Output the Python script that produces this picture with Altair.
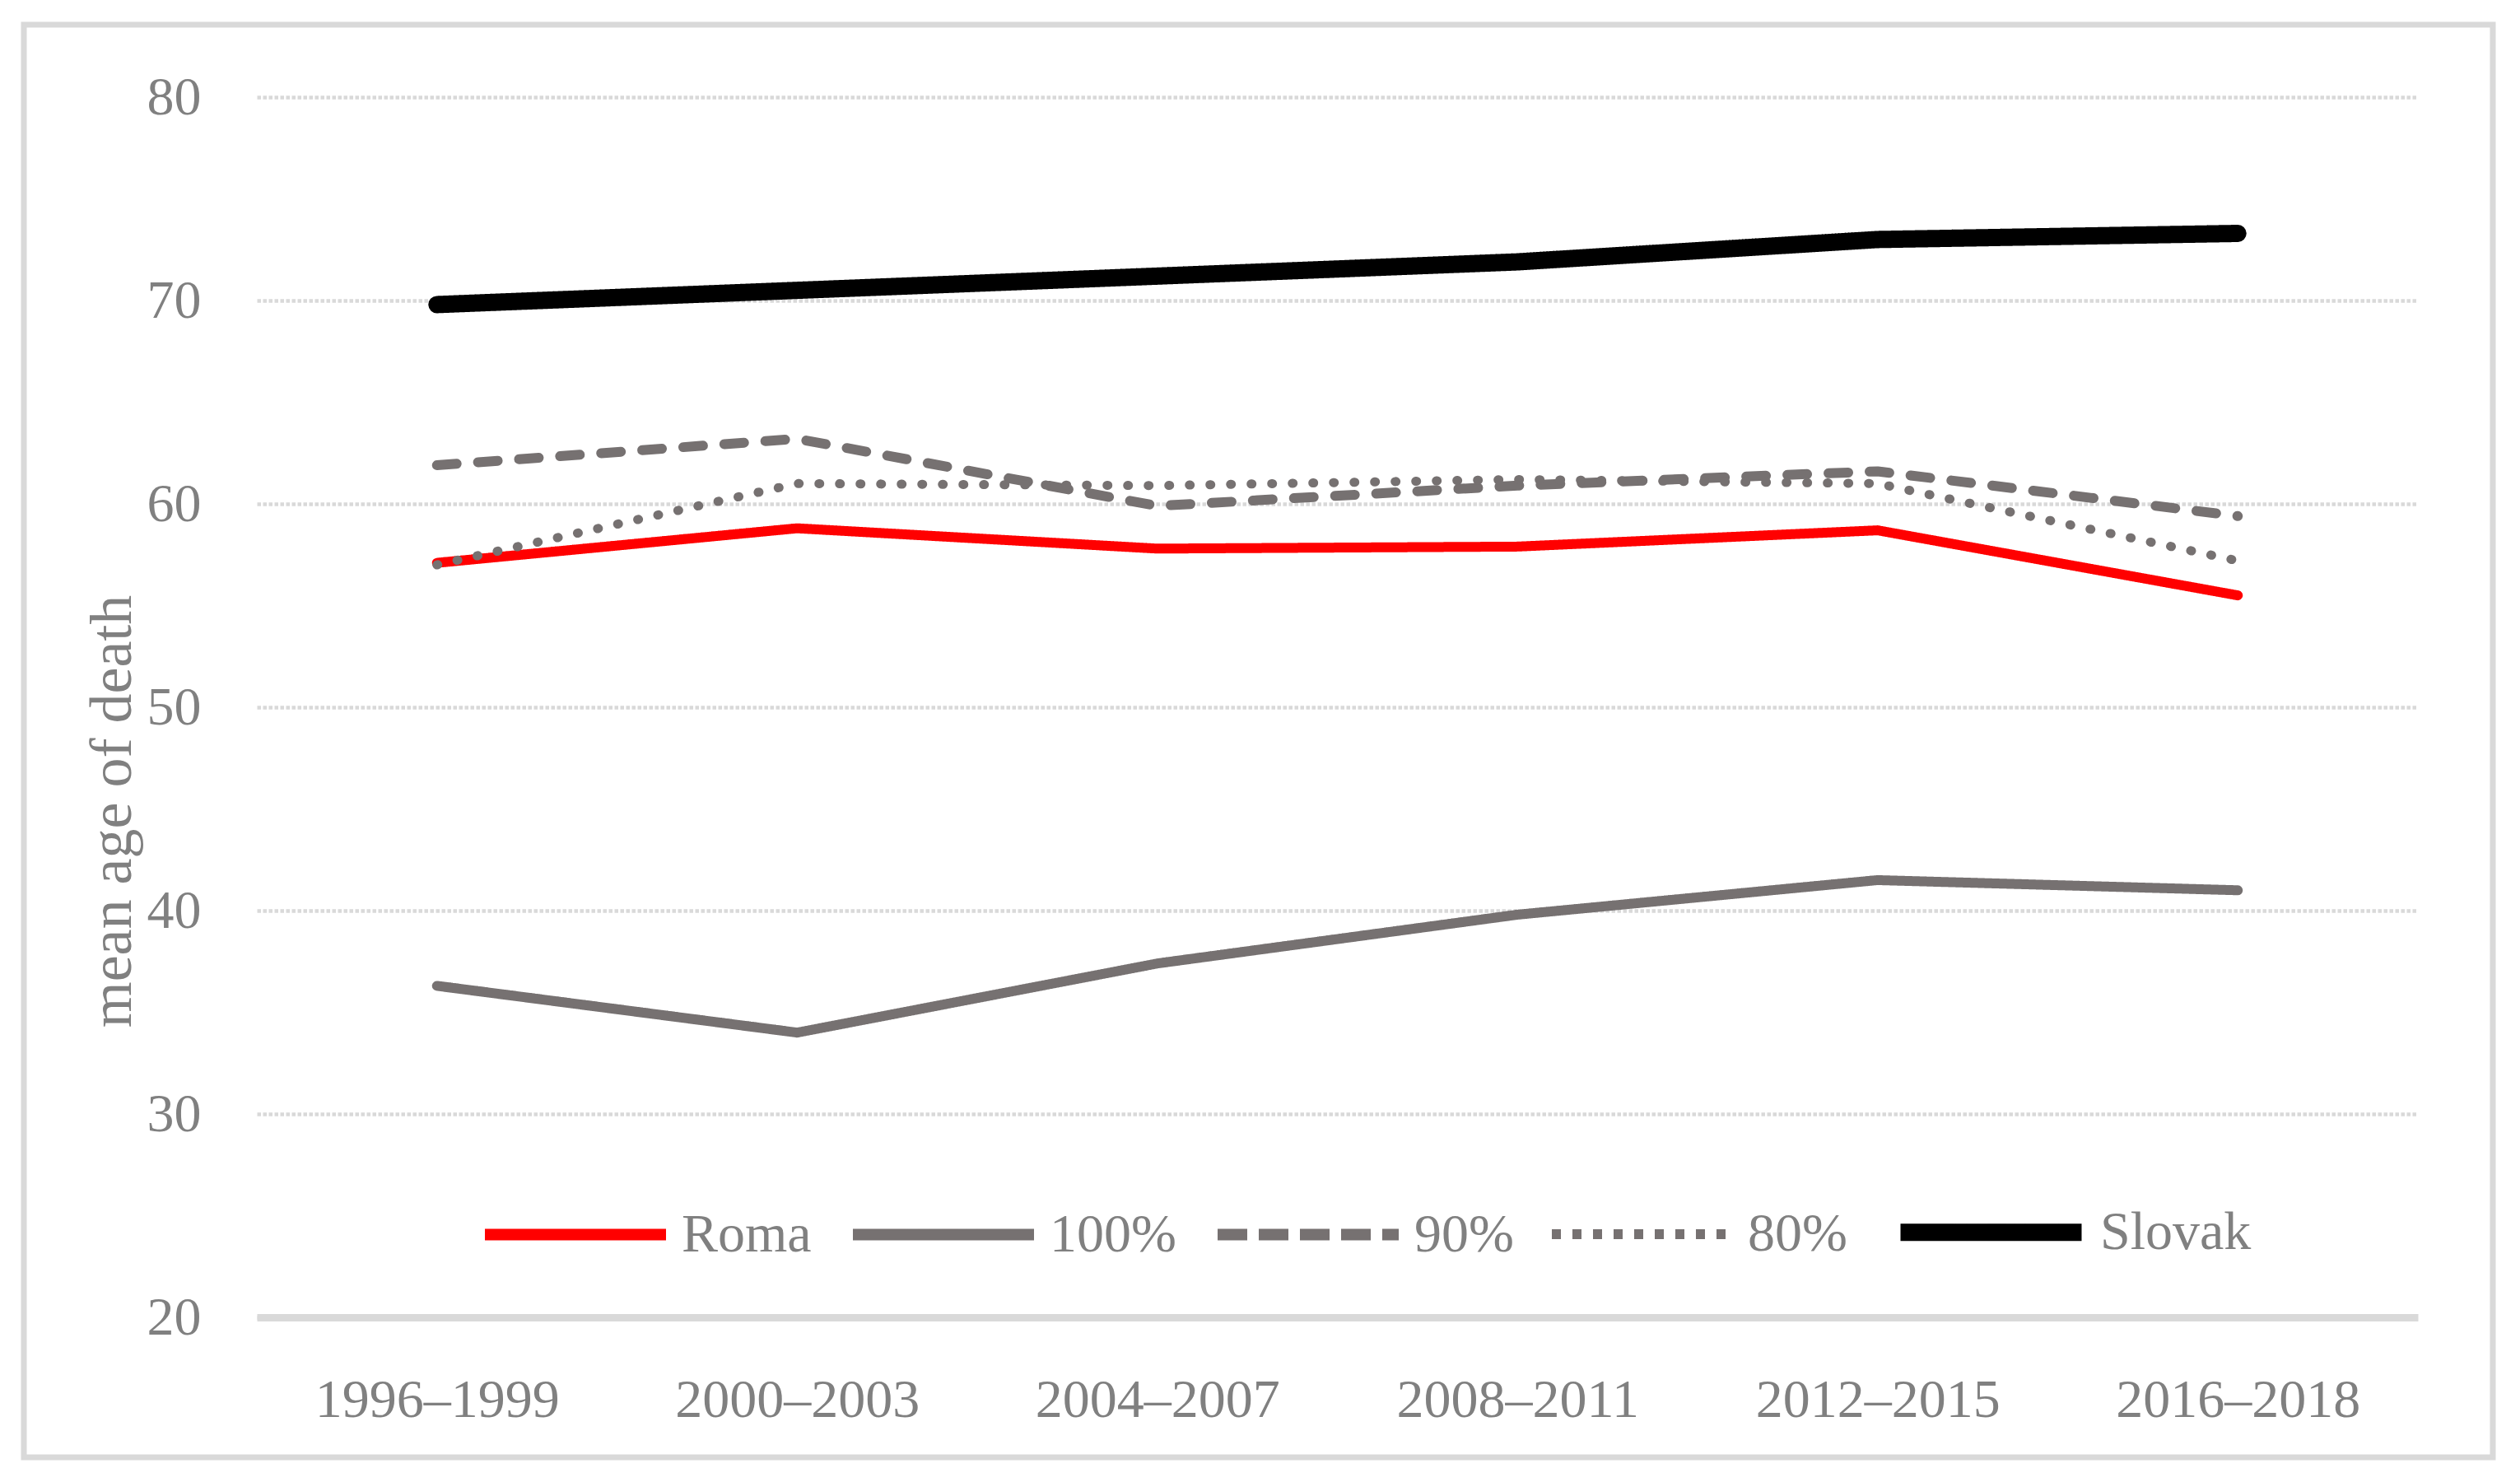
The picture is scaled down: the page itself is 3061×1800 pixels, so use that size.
import altair as alt
import pandas as pd

periods = ["1996\u20131999", "2000\u20132003", "2004\u20132007", "2008\u20132011", "2012\u20132015", "2016\u20132018"]
series = ["Roma", "100%", "90%", "80%", "Slovak"]
roma = [57.1, 58.8, 57.8, 57.9, 58.7, 55.5]
p100 = [36.3, 34.0, 37.4, 39.8, 41.5, 41.0]
p90 = [61.9, 63.2, 59.9, 60.9, 61.6, 59.4]
p80 = [57.0, 61.0, 60.9, 61.2, 61.0, 57.2]
slovak = [69.8, 70.5, 71.2, 71.9, 73.0, 73.3]
y_ticks = [20, 30, 40, 50, 60, 70, 80]

colors = ["#ff0000", "#767171", "#767171", "#767171", "#000000"]
dashes = [[1, 0], [1, 0], [24, 26], [1, 24], [1, 0]]          # round caps on the lines
legend_dashes = [[1, 0], [1, 0], [36, 14], [11, 14], [1, 0]]  # butt caps in the legend
widths = [12, 12, 12, 11, 21]
legend_widths = [14, 14, 14, 12, 21]

values = {"Roma": roma, "100%": p100, "90%": p90, "80%": p80, "Slovak": slovak}
rows = []
for s in series:
    for p, v in zip(periods, values[s]):
        rows.append({"series": s, "period": p, "value": v})
df = pd.DataFrame(rows)

W, H = 2625, 1482
FONT = "Liberation Serif"
TXT = "#808080"
GRID = "#d9d9d9"

x_enc = alt.X("period:N", sort=periods, scale=alt.Scale(domain=periods),
              axis=alt.Axis(title=None, grid=False, ticks=False, tickSize=0, domainColor=GRID,
                            domainWidth=9, labelAngle=0, labelFont=FONT, labelFontSize=66,
                            labelColor=TXT, labelPadding=120, labelBaseline="alphabetic",
                            labelLimit=1000))
y_enc = alt.Y("value:Q", scale=alt.Scale(domain=[20, 80], nice=False, zero=False),
              axis=alt.Axis(values=y_ticks, title="mean age of death", grid=True, gridColor=GRID,
                            gridDash=[4.5, 2.5], gridWidth=4.5, domain=False, ticks=False, tickSize=0,
                            labelFont=FONT, labelFontSize=66, labelColor=TXT, labelPadding=68,
                            titleFont=FONT, titleFontSize=72, titleColor=TXT, titleFontWeight="normal",
                            titleX=-154, titleY=867, titleAngle=270, titleBaseline="alphabetic",
                            titleAlign="center", titleLimit=2000))

lines = alt.Chart(df).mark_line(strokeCap="round", strokeJoin="round").encode(
    x=x_enc,
    y=y_enc,
    color=alt.Color("series:N", sort=series, scale=alt.Scale(domain=series, range=colors), legend=None),
    strokeDash=alt.StrokeDash("series:N", sort=series, scale=alt.Scale(domain=series, range=dashes), legend=None),
    strokeWidth=alt.StrokeWidth("series:N", sort=series,
                                scale=alt.Scale(type="ordinal", domain=series, range=widths), legend=None),
)

legend = alt.Legend(
    title=None, orient="none", legendX=270, legendY=1258, direction="horizontal",
    symbolType="stroke", symbolSize=48400, labelFont=FONT, labelFontSize=66,
    labelColor=TXT, labelOffset=12, columnPadding=22, labelLimit=600,
)

legend_layer = alt.Chart(df).transform_filter("false").mark_line().encode(
    x=alt.X("period:N", sort=periods),
    y=alt.Y("value:Q"),
    color=alt.Color("series:N", sort=series, scale=alt.Scale(domain=series, range=colors), legend=legend),
    strokeDash=alt.StrokeDash("series:N", sort=series, scale=alt.Scale(domain=series, range=legend_dashes), legend=legend),
    strokeWidth=alt.StrokeWidth("series:N", sort=series,
                                scale=alt.Scale(type="ordinal", domain=series, range=legend_widths), legend=legend),
)

frame = alt.Chart(pd.DataFrame({"f": [0]})).mark_rect(
    filled=False, stroke=GRID, strokeWidth=7
).encode(
    x=alt.value(-283), x2=alt.value(W + 91), y=alt.value(-88), y2=alt.value(H + 170)
)

chart = alt.layer(frame, lines, legend_layer).resolve_scale(
    color="independent", strokeDash="independent", strokeWidth="independent"
).properties(
    width=W, height=H,
    padding={"left": 304, "top": 110, "right": 116, "bottom": 185},
    autosize=alt.AutoSizeParams(type="none"),
    background="white",
).configure_view(stroke=None)

chart.save("out.html", embed_options={"renderer": "svg", "actions": False})
